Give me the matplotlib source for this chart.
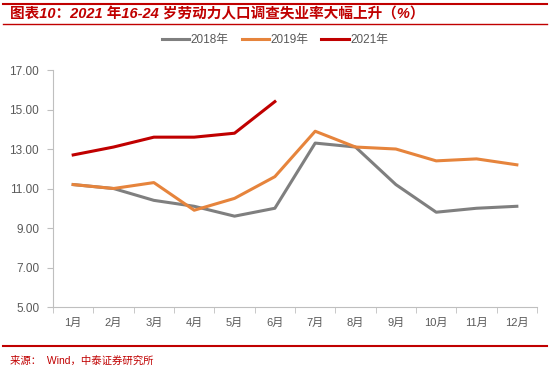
import matplotlib
matplotlib.use("Agg")
import matplotlib.pyplot as plt
from matplotlib.lines import Line2D

plt.rcParams['font.family'] = ['Liberation Sans', 'Noto Sans CJK SC', 'DejaVu Sans']

months = ['1月', '2月', '3月', '4月', '5月', '6月', '7月', '8月', '9月', '10月', '11月', '12月']
y2018 = [11.2, 11.0, 10.4, 10.1, 9.6, 10.0, 13.3, 13.1, 11.2, 9.8, 10.0, 10.1]
y2019 = [11.2, 11.0, 11.3, 9.9, 10.5, 11.6, 13.9, 13.1, 13.0, 12.4, 12.5, 12.2]
y2021 = [12.7, 13.1, 13.6, 13.6, 13.8, 15.4]
yticks = [5, 7, 9, 11, 13, 15, 17]

red = '#c00000'
fig = plt.figure(figsize=(5.5, 3.72), dpi=100)
ax = fig.add_axes([0.0964, 0.1747, 0.8800, 0.6371])

x = list(range(len(months)))
ax.plot(x, y2018, color='#7f7f7f', lw=2.2, label='2018年')
ax.plot(x, y2019, color='#e6843c', lw=2.2, label='2019年')
ax.plot(x[:len(y2021)], y2021, color='#c00000', lw=2.2, label='2021年')

ax.set_xlim(-0.5, 11.5)
ax.set_ylim(5, 17)
ax.set_yticks(yticks)
ax.set_yticklabels(['%.2f' % v for v in yticks])
ax.set_xticks(x)
ax.set_xticklabels(months)
ax.set_xticks([i + 0.5 for i in range(-1, 12)], minor=True)
ax.tick_params(axis='x', which='major', length=0, pad=8, labelsize=8, labelcolor='#595959')
ax.tick_params(axis='x', which='minor', length=4, color='#bfbfbf', direction='out')
ax.tick_params(axis='y', length=4, color='#bfbfbf', labelsize=8.5, labelcolor='#595959', pad=6)
for s in ['top', 'right']:
    ax.spines[s].set_visible(False)
for s in ['left', 'bottom']:
    ax.spines[s].set_color('#bfbfbf')

fig.legend(loc='center', bbox_to_anchor=(0.5, 0.893), ncol=3, frameon=False,
           fontsize=8.5, handlelength=2.3, columnspacing=1.1, handletextpad=0.15,
           labelcolor='#595959')

# title bar
fig.add_artist(Line2D([0.005, 0.995], [0.988, 0.988], color=red, lw=1.5))
fig.add_artist(Line2D([0.005, 0.995], [0.936, 0.936], color=red, lw=1.0))
fig.text(0.018, 0.962, '图表10：2021 年16-24 岁劳动力人口调查失业率大幅上升（%）', color=red,
         fontsize=10.5, fontweight='bold', style='italic', va='center', ha='left')

# source
fig.add_artist(Line2D([0.005, 0.995], [0.07, 0.07], color=red, lw=1.5))
fig.text(0.018, 0.03, '来源：  Wind，中泰证券研究所', color=red, fontsize=7.5, va='center', ha='left')

fig.savefig('out.png', dpi=100)
